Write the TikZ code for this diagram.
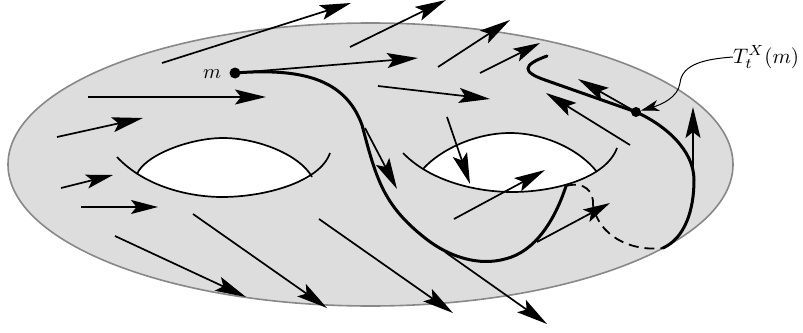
\documentclass[tikz,border=0pt]{standalone}
\usetikzlibrary{arrows.meta}
\usepackage{graphicx}
\definecolor{surf}{HTML}{DDDDDD}
\definecolor{rim}{HTML}{888888}
\tikzset{
  vec/.style={line width=1.7pt,-{Stealth[length=31pt,width=15pt,inset=6pt]}},
  vecs/.style={line width=1.7pt,-{Stealth[length=27pt,width=14pt,inset=5.5pt]}},
  flow/.style={line width=3pt,line cap=round},
  hole/.style={line width=1.7pt},
  dotnode/.style={circle,fill=black,inner sep=0pt,minimum size=11pt},
  lab/.style={inner sep=0pt}
}
\begin{document}
\begin{tikzpicture}[x=1pt,y=-1pt]
\useasboundingbox (0,0) rectangle (803,332);
\fill[surf,draw=rim,line width=1.6pt] (370.5,164.5) ellipse [x radius=362.5,y radius=141.5];
% holes
\fill[white] (137,174) .. controls (145,155) and (190,138) .. (223,138) .. controls (258,138) and (300,155) .. (312,177) .. controls (285,190) and (250,197) .. (222,197) .. controls (195,197) and (165,190) .. (137,174) -- cycle;
\fill[white] (423,169) .. controls (440,150) and (475,133) .. (510,133) .. controls (545,133) and (580,150) .. (597,172) .. controls (570,185) and (540,192) .. (512,192) .. controls (480,192) and (450,183) .. (423,169) -- cycle;
\draw[hole] (117,157) .. controls (145,187) and (190,197) .. (222,197) .. controls (265,197) and (320,182) .. (330,153);
\draw[hole] (137,174) .. controls (145,155) and (190,138) .. (223,138) .. controls (258,138) and (300,155) .. (312,177);
\draw[hole] (403,153) .. controls (432,183) and (480,192) .. (512,192) .. controls (555,192) and (606,178) .. (617,148);
\draw[hole] (423,169) .. controls (440,150) and (475,133) .. (510,133) .. controls (545,133) and (580,150) .. (597,172);
% named points
\node[dotnode] (m) at (235,73) {};
\node[dotnode,minimum size=10pt] (tx) at (636,112) {};
\coordinate (c1) at (365,128);
\coordinate (c2) at (693,172);
\coordinate (c3) at (537,242);
\coordinate (d1) at (566,186);
\coordinate (d2) at (663,248);
% trajectory
\draw[flow] (m.center) .. controls (300,68) and (345,78) .. (362,125) .. controls (376,178) and (383,205) .. (425,238) .. controls (450,258) and (480,266) .. (505,259) .. controls (535,252) and (555,220) .. (d1);
\draw[line width=1.8pt,dash pattern=on 10pt off 6pt] (d1) .. controls (585,181) and (594,192) .. (593,205) .. controls (598,235) and (630,252) .. (d2);
\draw[flow] (d2) .. controls (685,238) and (694,210) .. (694,180) .. controls (694,150) and (665,125) .. (tx.center) -- (545,80) .. controls (522,72) and (522,65) .. (547,56);
% vectors
\draw[vec] (162,63) -- (351,3);
\draw[vec] (350,47) -- (446,0);
\draw[vec] (438,67) -- (510,20);
\draw[vecs] (480,73) -- (540,43);
\draw[vec] (m) -- (418,58);
\draw[vec] (88,97) -- (266,97);
\draw[vec] (57,137) -- (143,118);
\draw[vec] (378,86) -- (490,99);
\draw[vec] (630,145) -- (546,93);
\draw[vec] (tx) -- (578,79);
\draw[vec] (c2) -- (693,107);
\draw[vec] (447,117) -- (470,184);
\draw[vec] (454,219) -- (545,170);
\draw[vecs] (c3) -- (610,203);
\draw[vec] (c1) -- (397,189);
\draw[vecs] (61,188) -- (113,175);
\draw[vecs] (81,207) -- (158,207);
\draw[vec] (115,236) -- (246,297);
\draw[vec] (193,214) -- (327,308);
\draw[vec] (319,219) -- (453,313);
\draw[vec] (445,252) -- (547,324);
% labels
\node[lab] (ml) at (212,74) {\scalebox{2.05}{$m$}};
\node[lab,anchor=west] (tl) at (733,57) {\scalebox{2.1}{$T_t^X(m)$}};
\draw[line width=1pt,-{Stealth[length=18pt,width=11pt,inset=5pt]}] (tl.west) .. controls (705,59) and (682,64) .. (680,83) .. controls (678,98) and (660,105) .. (tx);
\end{tikzpicture}
\end{document}
